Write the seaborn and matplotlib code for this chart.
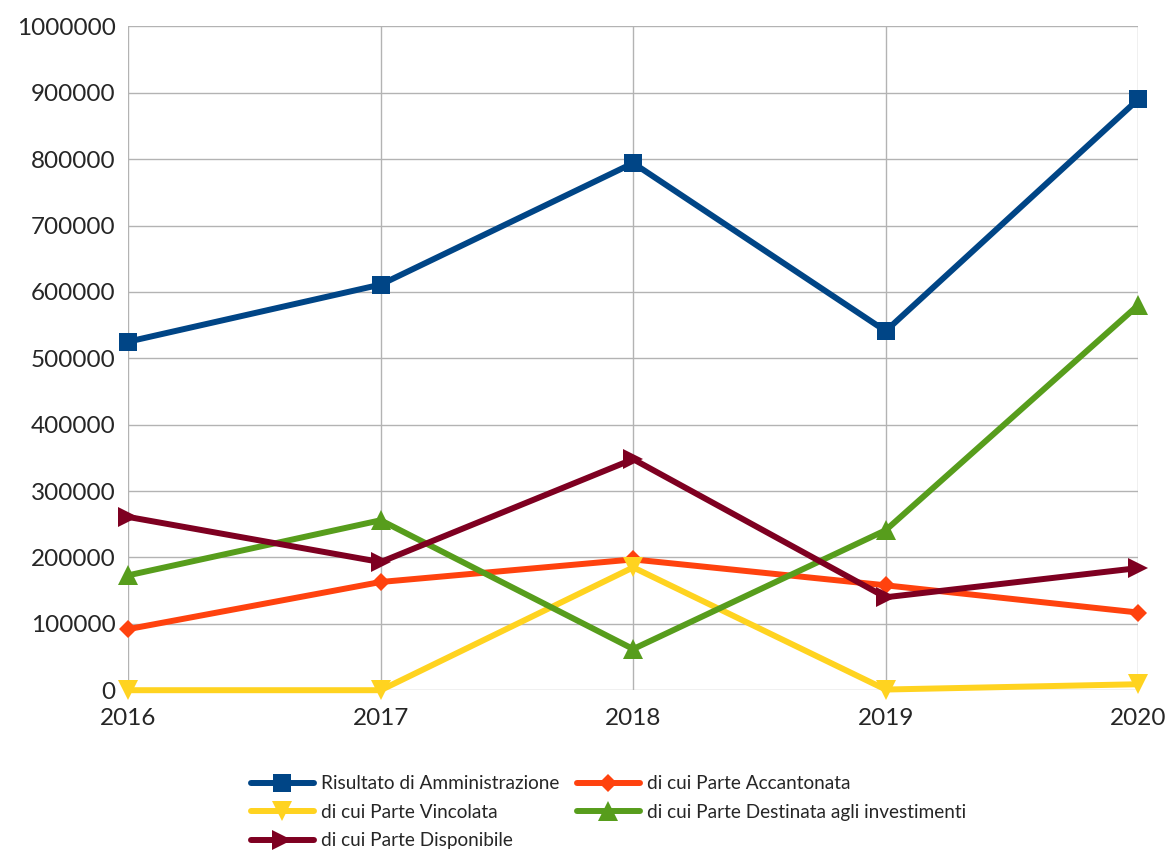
import matplotlib
matplotlib.use("Agg")
import matplotlib.pyplot as plt
from matplotlib.ticker import FuncFormatter
import pandas as pd
import seaborn as sns

# Dati
anni = [2016, 2017, 2018, 2019, 2020]
risultato = [525000, 611000, 794000, 541000, 890000]
accantonata = [92000, 163000, 197000, 158000, 117000]
vincolata = [0, 0, 185000, 1000, 9000]
destinata = [173000, 256000, 62000, 241000, 580000]
disponibile = [261000, 193000, 348000, 140000, 184000]

serie = ["Risultato di Amministrazione", "di cui Parte Accantonata",
         "di cui Parte Vincolata", "di cui Parte Destinata agli investimenti",
         "di cui Parte Disponibile"]
valori = [risultato, accantonata, vincolata, destinata, disponibile]
colori = ["#004586", "#ff420e", "#ffd320", "#579d1c", "#7e0021"]
marcatori = ["s", "D", "v", "^", ">"]
dimensioni = [13, 9, 14, 14, 14]

df = pd.DataFrame({"anno": anni})
for nome, v in zip(serie, valori):
    df[nome] = v
df_long = df.melt(id_vars="anno", var_name="serie", value_name="valore")

sns.set_style("white")
plt.rcParams["font.family"] = ["Lato", "DejaVu Sans"]

fig = plt.figure(figsize=(11.65, 8.5), dpi=100)
ax = fig.add_axes([0.110, 0.188, 0.867, 0.781])

for nome, col, m, ms in zip(serie, colori, marcatori, dimensioni):
    sub = df_long[df_long["serie"] == nome]
    sns.lineplot(data=sub, x="anno", y="valore", color=col, marker=m,
                 markersize=ms, markeredgewidth=0, linewidth=4.3,
                 label=nome, ax=ax, clip_on=False, zorder=3)

ax.set_xlim(2016, 2020)
ax.set_ylim(0, 1000000)
ax.set_xticks(anni)
ax.set_yticks(range(0, 1000001, 100000))
ax.yaxis.set_major_formatter(FuncFormatter(lambda v, p: f"{int(v)}"))
ax.set_xlabel("")
ax.set_ylabel("")
ax.grid(True, color="#b3b3b3", linewidth=1)
for s in ax.spines.values():
    s.set_visible(False)
ax.tick_params(axis="both", length=6, color="#b3b3b3", labelsize=17.5, pad=3)
ax.tick_params(axis="x", pad=7)

handles, labels = ax.get_legend_handles_labels()
ordine = [0, 2, 4, 1, 3]
ax.legend([handles[i] for i in ordine], [labels[i] for i in ordine],
          ncol=2, loc="upper left", bbox_to_anchor=(0.114, -0.117),
          frameon=False, fontsize=13.7, handlelength=3.3,
          columnspacing=0.9, handletextpad=0.4, labelspacing=0.6,
          borderaxespad=0)

fig.savefig("out.png", dpi=100)
